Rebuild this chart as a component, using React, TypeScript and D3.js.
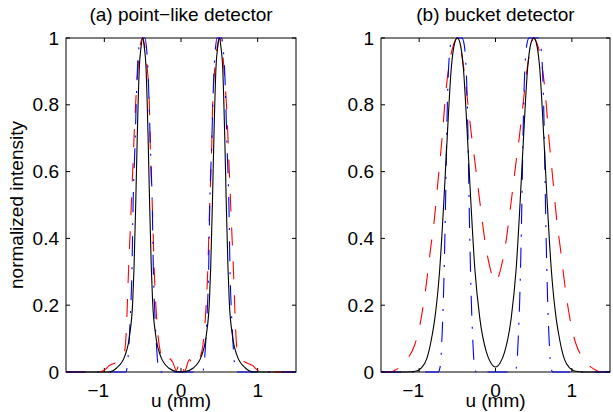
import React from 'react';
import * as d3 from 'd3';

// ---------- tick labels / titles ----------
const xTicks = [-1, 0, 1];
const xTickLabels = ['\u22121', '0', '1'];
const yTicks = [0, 0.2, 0.4, 0.6, 0.8, 1];
const yTickLabels = ['0', '0.2', '0.4', '0.6', '0.8', '1'];
const panelTitles = ['(a) point\u2212like detector', '(b) bucket detector'];
const xLabelText = 'u (mm)';
const yLabelText = 'normalized intensity';

// ---------- (a) point-like detector ----------
const aBlackU = [-1.5, -0.95, -0.84, -0.73, -0.67, -0.63, -0.613, -0.59, -0.57, -0.544, -0.52, -0.5, -0.48, -0.456, -0.43, -0.41, -0.387, -0.37, -0.33, -0.27, -0.16, -0.05, 0, 0.05, 0.16, 0.27, 0.33, 0.37, 0.387, 0.41, 0.43, 0.456, 0.48, 0.5, 0.52, 0.544, 0.57, 0.59, 0.613, 0.63, 0.67, 0.73, 0.84, 0.95, 1.5];
const aBlackI = [0, 0, 0.012, 0.05, 0.11, 0.21, 0.31, 0.51, 0.71, 0.91, 0.975, 1, 0.975, 0.91, 0.71, 0.51, 0.31, 0.21, 0.11, 0.05, 0.012, 0.001, 0, 0.001, 0.012, 0.05, 0.11, 0.21, 0.31, 0.51, 0.71, 0.91, 0.975, 1, 0.975, 0.91, 0.71, 0.51, 0.31, 0.21, 0.11, 0.05, 0.012, 0, 0];

const aRedU = [-1.5, -1.1, -1.01, -0.93, -0.86, -0.8, -0.76, -0.73, -0.71, -0.69, -0.657, -0.623, -0.604, -0.57, -0.53, -0.5, -0.47, -0.45, -0.414, -0.4, -0.37, -0.35, -0.32, -0.27, -0.23, -0.19, -0.15, -0.11, -0.06, -0.01, 0.045, 0.11, 0.16, 0.22, 0.27, 0.32, 0.35, 0.37, 0.4, 0.414, 0.45, 0.47, 0.5, 0.53, 0.57, 0.604, 0.623, 0.657, 0.69, 0.71, 0.73, 0.76, 0.8, 0.86, 0.93, 1.01, 1.1, 1.5];
const aRedI = [0, 0, 0.004, 0.02, 0.027, 0.035, 0.045, 0.07, 0.14, 0.27, 0.45, 0.64, 0.75, 0.88, 0.98, 1, 0.97, 0.93, 0.81, 0.67, 0.47, 0.31, 0.17, 0.06, 0.035, 0.03, 0.04, 0.03, 0.005, 0.035, 0.002, 0.037, 0.02, 0.035, 0.06, 0.17, 0.31, 0.47, 0.67, 0.81, 0.93, 0.97, 1, 0.98, 0.88, 0.75, 0.64, 0.45, 0.27, 0.14, 0.07, 0.045, 0.035, 0.027, 0.02, 0.004, 0, 0];

const aBlueU = [-1.5, -0.72, -0.7, -0.68, -0.66, -0.64, -0.625, -0.6, -0.57, -0.55, -0.53, -0.5, -0.47, -0.45, -0.43, -0.4, -0.375, -0.36, -0.34, -0.32, -0.3, -0.285, 0.285, 0.3, 0.32, 0.34, 0.36, 0.375, 0.4, 0.43, 0.45, 0.47, 0.5, 0.53, 0.55, 0.57, 0.6, 0.625, 0.64, 0.66, 0.68, 0.7, 0.72, 1.5];
const aBlueI = [0, 0, 0.02, 0.08, 0.17, 0.3, 0.5, 0.68, 0.9, 0.97, 1, 1, 1, 0.97, 0.9, 0.68, 0.5, 0.3, 0.17, 0.08, 0.02, 0, 0, 0.02, 0.08, 0.17, 0.3, 0.5, 0.68, 0.9, 0.97, 1, 1, 1, 0.97, 0.9, 0.68, 0.5, 0.3, 0.17, 0.08, 0.02, 0, 0];

// ---------- (b) bucket detector ----------
const bBlackU = [-1.5, -1.15, -1.05, -0.97, -0.9, -0.875, -0.83, -0.795, -0.73, -0.677, -0.631, -0.579, -0.535, -0.5, -0.465, -0.421, -0.369, -0.323, -0.271, -0.205, -0.12, -0.06, 0, 0.06, 0.12, 0.205, 0.271, 0.323, 0.369, 0.421, 0.465, 0.5, 0.535, 0.579, 0.631, 0.677, 0.73, 0.795, 0.83, 0.875, 0.9, 0.97, 1.05, 1.15, 1.5];
const bBlackI = [0, 0, 0.002, 0.012, 0.04, 0.06, 0.11, 0.16, 0.31, 0.51, 0.71, 0.91, 0.985, 1, 0.985, 0.91, 0.71, 0.51, 0.31, 0.16, 0.06, 0.027, 0.015, 0.027, 0.06, 0.16, 0.31, 0.51, 0.71, 0.91, 0.985, 1, 0.985, 0.91, 0.71, 0.51, 0.31, 0.16, 0.11, 0.06, 0.04, 0.012, 0.002, 0, 0];

const bRedU = [-1.5, -1.4, -1.28, -1.15, -1.06, -1.0, -0.92, -0.85, -0.8, -0.75, -0.7, -0.65, -0.6, -0.55, -0.5, -0.46, -0.41, -0.36, -0.31, -0.27, -0.2, -0.13, -0.07, -0.03, 0, 0.03, 0.07, 0.13, 0.2, 0.27, 0.31, 0.36, 0.41, 0.46, 0.5, 0.55, 0.6, 0.65, 0.7, 0.75, 0.8, 0.85, 0.92, 1.0, 1.06, 1.15, 1.28, 1.4, 1.5];
const bRedI = [0, 0, 0.01, 0.04, 0.08, 0.13, 0.24, 0.37, 0.46, 0.58, 0.7, 0.84, 0.93, 0.98, 1, 0.97, 0.9, 0.8, 0.7, 0.63, 0.5, 0.38, 0.31, 0.28, 0.27, 0.28, 0.31, 0.38, 0.5, 0.63, 0.7, 0.8, 0.9, 0.97, 1, 0.98, 0.93, 0.84, 0.7, 0.58, 0.46, 0.37, 0.24, 0.13, 0.08, 0.04, 0.01, 0, 0];

const bBlueU = [-1.5, -0.75, -0.73, -0.715, -0.7, -0.685, -0.67, -0.655, -0.64, -0.625, -0.61, -0.59, -0.56, -0.5, -0.44, -0.41, -0.39, -0.375, -0.36, -0.345, -0.33, -0.315, -0.3, -0.285, -0.27, -0.25, 0.25, 0.27, 0.285, 0.3, 0.315, 0.33, 0.345, 0.36, 0.375, 0.39, 0.41, 0.44, 0.5, 0.56, 0.59, 0.61, 0.625, 0.64, 0.655, 0.67, 0.685, 0.7, 0.715, 0.73, 0.75, 1.5];
const bBlueI = [0, 0, 0.01, 0.04, 0.11, 0.2, 0.33, 0.5, 0.7, 0.85, 0.93, 0.98, 1, 1, 1, 0.98, 0.93, 0.85, 0.7, 0.5, 0.33, 0.2, 0.11, 0.04, 0.01, 0, 0, 0.01, 0.04, 0.11, 0.2, 0.33, 0.5, 0.7, 0.85, 0.93, 0.98, 1, 1, 1, 0.98, 0.93, 0.85, 0.7, 0.5, 0.33, 0.2, 0.11, 0.04, 0.01, 0, 0];

// ---------- layout / style ----------
const W = 613;
const H = 412;
const FONT = '"Liberation Sans", Arial, Helvetica, sans-serif';
const FS = 19;
const TOP = 38;
const BOTTOM = 372;
const TICK = 4;

type Series = { u: number[]; v: number[]; color: string; dash?: string };

const styleRed = { color: '#ff0000', dash: '18,16' };
const styleBlue = { color: '#0000ff', dash: '20,11,2,11' };
const styleBlack = { color: '#000000' };

interface PanelProps {
  left: number;
  right: number;
  title: string;
  series: Series[];
  showYLabel: boolean;
}

function Panel({ left, right, title, series, showYLabel }: PanelProps) {
  const x = d3.scaleLinear().domain([-1.5, 1.5]).range([left, right]);
  const y = d3.scaleLinear().domain([0, 1]).range([BOTTOM, TOP]);
  const line = d3
    .line<[number, number]>()
    .x((d) => x(d[0]))
    .y((d) => y(d[1]))
    .curve(d3.curveMonotoneX);
  const cx = (left + right) / 2;

  return (
    <g>
      <text x={cx} y={21} textAnchor="middle" fontSize={FS} fontFamily={FONT} fill="#000">
        {title}
      </text>
      {/* box */}
      <rect
        x={left}
        y={TOP}
        width={right - left}
        height={BOTTOM - TOP}
        fill="none"
        stroke="#000"
        strokeWidth={1}
      />
      {/* x ticks */}
      {xTicks.map((t, i) => (
        <g key={'x' + i}>
          <line x1={x(t)} x2={x(t)} y1={BOTTOM} y2={BOTTOM - TICK} stroke="#000" strokeWidth={1} />
          <line x1={x(t)} x2={x(t)} y1={TOP} y2={TOP + TICK} stroke="#000" strokeWidth={1} />
          <text
            x={x(t) + (t < 0 ? -6 : 0)}
            y={397}
            textAnchor="middle"
            fontSize={FS}
            fontFamily={FONT}
            fill="#000"
          >
            {xTickLabels[i]}
          </text>
        </g>
      ))}
      {/* y ticks */}
      {yTicks.map((t, i) => (
        <g key={'y' + i}>
          <line x1={left} x2={left + TICK} y1={y(t)} y2={y(t)} stroke="#000" strokeWidth={1} />
          <line x1={right} x2={right - TICK} y1={y(t)} y2={y(t)} stroke="#000" strokeWidth={1} />
          <text
            x={left - 7}
            y={y(t)}
            dy="0.35em"
            textAnchor="end"
            fontSize={FS}
            fontFamily={FONT}
            fill="#000"
          >
            {yTickLabels[i]}
          </text>
        </g>
      ))}
      {/* curves */}
      {series.map((s, i) => (
        <path
          key={'s' + i}
          d={line(d3.zip(s.u, s.v) as [number, number][]) || ''}
          fill="none"
          stroke={s.color}
          strokeWidth={1.1}
          strokeDasharray={s.dash}
        />
      ))}
      <text x={cx} y={407} textAnchor="middle" fontSize={FS} fontFamily={FONT} fill="#000">
        {xLabelText}
      </text>
      {showYLabel && (
        <text
          transform={`translate(23,${(TOP + BOTTOM) / 2}) rotate(-90)`}
          textAnchor="middle"
          fontSize={FS}
          fontFamily={FONT}
          fill="#000"
        >
          {yLabelText}
        </text>
      )}
    </g>
  );
}

export default function App() {
  const seriesA: Series[] = [
    { u: aRedU, v: aRedI, ...styleRed },
    { u: aBlueU, v: aBlueI, ...styleBlue },
    { u: aBlackU, v: aBlackI, ...styleBlack },
  ];
  const seriesB: Series[] = [
    { u: bRedU, v: bRedI, ...styleRed },
    { u: bBlueU, v: bBlueI, ...styleBlue },
    { u: bBlackU, v: bBlackI, ...styleBlack },
  ];
  return (
    <svg
      width={W}
      height={H}
      viewBox={`0 0 ${W} ${H}`}
      style={{ position: 'absolute', left: 0, top: 0, background: '#fff' }}
    >
      <rect x={0} y={0} width={W} height={H} fill="#fff" />
      <Panel left={66} right={296} title={panelTitles[0]} series={seriesA} showYLabel={true} />
      <Panel left={381} right={610} title={panelTitles[1]} series={seriesB} showYLabel={false} />
    </svg>
  );
}
